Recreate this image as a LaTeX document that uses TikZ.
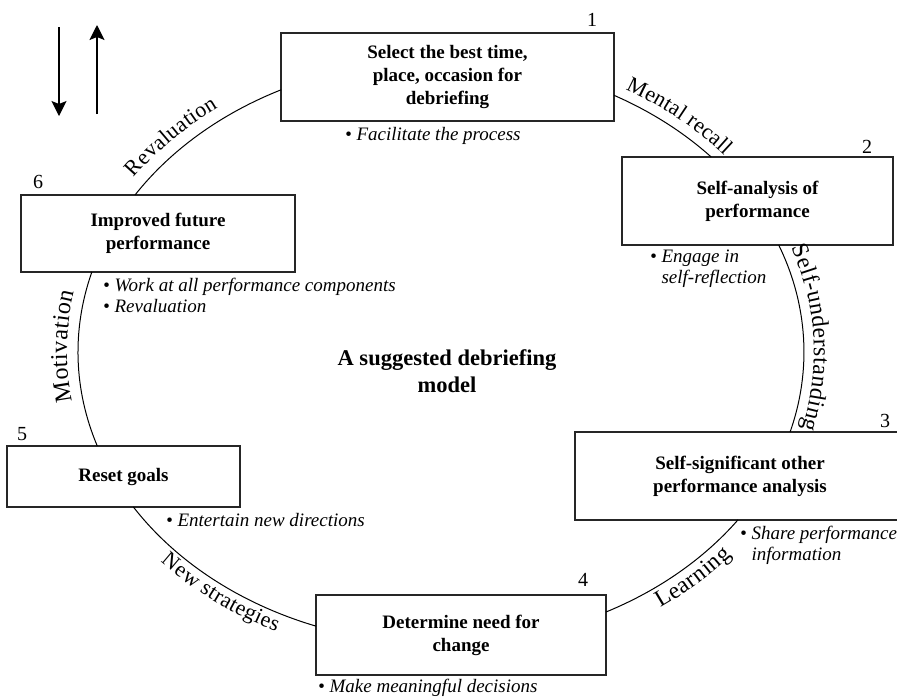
\documentclass[tikz,border=0pt]{standalone}
\usepackage{fontspec}
\setmainfont{Liberation Serif}
\usetikzlibrary{arrows.meta,decorations.text,calc}

\newcommand\stagefont{\fontsize{19}{23}\selectfont\bfseries}
\newcommand\notefont{\fontsize{19}{20.5}\selectfont\itshape}
\newcommand\arcfont[1]{\fontsize{#1}{#1}\selectfont}
\newcommand\numfont{\fontsize{20}{23}\selectfont}
\newcommand\headfont{\fontsize{22.5}{26.5}\selectfont\bfseries}

\begin{document}
\begin{tikzpicture}[x=1pt,y=-1pt,
  stagebox/.style={draw=black!85, line width=1.3pt, inner sep=0pt, outer sep=0pt,
                   align=center, font=\stagefont},
  note/.style={inner sep=0pt, align=left, font=\notefont},
  num/.style={inner sep=0pt, font=\numfont},
  ring/.style={line width=1pt},
  ringlabel/.style n args={3}{decorate, decoration={text along path,
      text={|\arcfont{#3}|#1}, text align=center, raise=#2}},
  updown/.style={line width=1.3pt, -{Stealth[length=15pt,width=15pt,inset=3pt]}},
  radii/.style={x radius=363, y radius=292}
]
\useasboundingbox (0,0) rectangle (897,697);
\clip (0,0) rectangle (897,697);

% stages of the cycle
\node[stagebox, minimum width=333pt, minimum height=88pt] (b1) at (447.5,77)
  {Select the best time,\\place, occasion for\\debriefing};
\node[stagebox, minimum width=271pt, minimum height=88pt] (b2) at (757.5,201)
  {Self-analysis of\\performance};
\node[stagebox, minimum width=330pt, minimum height=88pt] (b3) at (740,476)
  {Self-significant other\\performance analysis};
\node[stagebox, minimum width=290pt, minimum height=80pt] (b4) at (461,635)
  {Determine need for\\change};
\node[stagebox, minimum width=233pt, minimum height=61pt] (b5) at (123.5,476.5)
  {Reset goals};
\node[stagebox, minimum width=274pt, minimum height=77pt] (b6) at (158,233.5)
  {Improved future\\performance};

% stage numbers
\node[num] (n1) at (592,20) {1};
\node[num] (n2) at (867,147) {2};
\node[num] (n3) at (885,421) {3};
\node[num] (n4) at (583,580) {4};
\node[num] (n5) at (22,434) {5};
\node[num] (n6) at (38,182) {6};

% notes under each stage
\node[note, anchor=base west] (t1) at (345,140) {\textbullet\ Facilitate the process};
\node[note, anchor=north west] (t2) at (650,250)
  {\textbullet\ Engage in\\\hphantom{\textbullet\ }self-reflection};
\node[note, anchor=north west] (t3) at (740,526)
  {\textbullet\ Share performance\\\hphantom{\textbullet\ }information};
\node[note, anchor=base west] (t4) at (318,692) {\textbullet\ Make meaningful decisions};
\node[note, anchor=base west] (t5) at (166,526) {\textbullet\ Entertain new directions};
\node[note, anchor=north west] (t6) at (103,278)
  {\textbullet\ Work at all performance components\\\textbullet\ Revaluation};

% centre title
\node[font=\headfont, align=center, inner sep=0pt] (title) at (447,371)
  {A suggested debriefing\\model};

% elliptical ring joining the stages
\coordinate (O) at (441,352);
\draw[ring] ($(b6.north west)+(114,0)$) arc[start angle=212.5, end angle=243.85, radii];
\draw[ring] ($(b1.north east)+(0,62.3)$) arc[start angle=-61.54, end angle=-41.9, radii];
\draw[ring] ($(b2.south west)+(156.7,0)$) arc[start angle=-21.5, end angle=15.9, radii];
\draw[ring] ($(b4.north east)+(0,17)$) arc[start angle=62.97, end angle=35.12, radii];
\draw[ring] ($(b5.south west)+(126.4,0)$) arc[start angle=147.94, end angle=110.14, radii];
\draw[ring] ($(b5.north west)+(90.3,0)$) arc[start angle=161.22, end angle=195.9, radii];

% labels set along the ring
\path[ringlabel={Revaluation}{12pt}{22}]
  ($(O)+(203.5:363 and 292)$) arc[start angle=203.5, end angle=243.5, radii];
\path[ringlabel={Mental recall}{10pt}{22}]
  ($(O)+(-69.8:363 and 292)$) arc[start angle=-69.8, end angle=-29.8, radii];
\path[ringlabel={Self-understanding}{10pt}{23.5}]
  ($(O)+(-27.6:363 and 292)$) arc[start angle=-27.6, end angle=22.4, radii];
\path[ringlabel={Learning}{-20pt}{23.5}]
  ($(O)+(66.9:363 and 292)$) arc[start angle=66.9, end angle=26.9, radii];
\path[ringlabel={New strategies}{-18pt}{22}]
  ($(O)+(149.4:363 and 292)$) arc[start angle=149.4, end angle=105.4, radii];
\path[ringlabel={Motivation}{11pt}{24}]
  ($(O)+(161:363 and 292)$) arc[start angle=161, end angle=201, radii];

% direction arrows
\coordinate (downA) at (59,27);
\coordinate (downB) at (59,116);
\coordinate (upA) at (97,114);
\coordinate (upB) at (97,25);
\draw[updown] (downA) -- (downB);
\draw[updown] (upA) -- (upB);
\end{tikzpicture}
\end{document}
